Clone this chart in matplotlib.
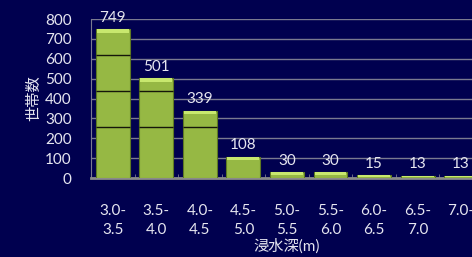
import numpy as np
import matplotlib.pyplot as plt

# データ
categories = ["3.0-\n3.5", "3.5-\n4.0", "4.0-\n4.5", "4.5-\n5.0", "5.0-\n5.5",
              "5.5-\n6.0", "6.0-\n6.5", "6.5-\n7.0", "7.0-"]
households = [749, 501, 339, 108, 30, 30, 15, 13, 13]
band_lines = [618, 437, 256]  # dark lines seen across the tall bars

plt.rcParams['font.family'] = ['Lato', 'Noto Sans CJK JP', 'DejaVu Sans']

bg = '#00004f'
txt = '#e6e6f0'
grid = '#7a7a90'

fig = plt.figure(figsize=(4.72, 2.57), dpi=100, facecolor=bg)
ax = fig.add_axes([0.193, 0.307, 0.830, 0.619], facecolor=bg)

x = np.arange(len(categories))
w = 0.78
ax.bar(x, households, width=w, color='#96b844', edgecolor='#5f7a22', linewidth=0.8, zorder=3)
# lighter top face
top_h = [min(18, v * 0.5) for v in households]
ax.bar(x, top_h, bottom=np.array(households) - np.array(top_h), width=w * 0.94,
       color='#c8e86e', linewidth=0, zorder=4)

for lv in band_lines:
    for xi, v in zip(x, households):
        if v > lv:
            ax.hlines(lv, xi - w / 2, xi + w / 2, color='#15150a', linewidth=1, zorder=5)

for xi, v in zip(x, households):
    ax.text(xi, v + 22, str(v), ha='center', va='bottom', color=txt, fontsize=11, zorder=6)

ax.set_xlim(-0.5, len(categories) - 0.5)
ax.set_ylim(0, 800)
ax.set_yticks(range(0, 801, 100))
ax.yaxis.grid(True, color=grid, linewidth=1)
ax.set_axisbelow(True)

ax.set_xticks(x)
ax.set_xticklabels(categories, linespacing=1.45)
ax.set_xticks(x[:-1] + 0.5, minor=True)
ax.tick_params(axis='x', which='major', length=0, pad=19, labelsize=11, colors=txt)
ax.tick_params(axis='x', which='minor', length=3, direction='in', color=grid)
ax.tick_params(axis='y', length=0, pad=14, labelsize=11, colors=txt)

for s in ['top', 'right']:
    ax.spines[s].set_visible(False)
ax.spines['left'].set_color(grid)
ax.spines['bottom'].set_color('#8a8a8a')
ax.spines['bottom'].set_linewidth(2)

ax.set_xlabel('浸水深(m)', color=txt, fontsize=11, labelpad=1)
ax.set_ylabel('世帯数', color=txt, fontsize=11, labelpad=3)

fig.savefig('out.png', dpi=100, facecolor=bg)
